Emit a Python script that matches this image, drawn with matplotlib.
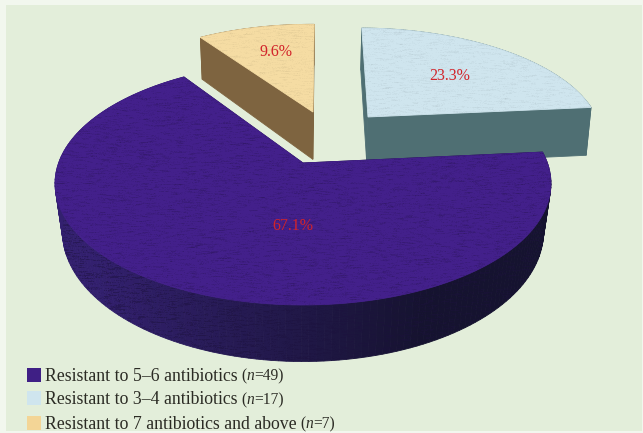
import matplotlib
matplotlib.use("Agg")
import matplotlib.pyplot as plt
import numpy as np
from matplotlib.patches import Polygon, Rectangle

plt.rcParams['font.family'] = ['Liberation Serif', 'DejaVu Serif']

# counts per resistance group
counts = [49, 17, 7]
groups = ["Resistant to 5\u20136 antibiotics", "Resistant to 3\u20134 antibiotics",
          "Resistant to 7 antibiotics and above"]
percents = [100.0 * c / sum(counts) for c in counts]
pct_labels = ["%.1f%%" % p for p in percents]

# styling for each wedge
top_cols = ["#43208b", "#cfe5ee", "#f5dca3"]
side_cols = ["#33206f", "#4f6f73", "#7e6440"]
side_cols_right = ["#15132f", "#4f6f73", "#7e6440"]
legend_cols = ["#3f1f85", "#cfe5ee", "#f3d596"]
explode = [(0.0, 0.0), (0.2847, -0.4175), (0.044, -0.466)]
depth = [47, 52, 51]
shrink = [0.97, 0.983, 0.983]
label_xy = [(293, 226), (450, 76), (276, 52)]

# perspective of the pie plane, in figure pixels
cx, cy = 303.0, 163.0
A, B, K = 244.4, 118.0, 0.1688


def project(X, Y):
    w = 1 - K * Y
    return cx + A * X / w, cy + B * Y / w, w


def wedge_outline(a0, a1, off, n=160):
    # a0, a1 in degrees, counter-clockwise, with y pointing at the viewer
    t = np.radians(np.linspace(a0, a1, n))
    X = np.r_[off[0], off[0] + np.cos(t)]
    Y = np.r_[off[1], off[1] - np.sin(t)]
    return X, Y


def texture(ax, patch, color, seed, amount=0.16):
    # soft mottled print grain, clipped to the face it sits on
    rng = np.random.default_rng(seed)
    n = rng.normal(size=(433, 643))
    k = np.ones(7) / 7.0
    n = np.apply_along_axis(lambda r: np.convolve(r, k, mode='same'), 1, n)
    n = n + 0.5 * rng.normal(size=n.shape) * 0.4
    n = n / n.std()
    img = np.zeros((433, 643, 4))
    rgb = matplotlib.colors.to_rgb(color)
    img[..., :3] = np.clip(np.array(rgb)[None, None, :] * 0.55, 0, 1)
    img[..., 3] = np.clip(n * amount, 0, 0.5)
    im = ax.imshow(img, extent=(0, 643, 433, 0), zorder=patch.get_zorder() + 0.1,
                   interpolation='bilinear', aspect='auto')
    im.set_clip_path(patch)


fig = plt.figure(figsize=(6.43, 4.33), dpi=100, facecolor="#f2f7ee")
ax = fig.add_axes([0, 0, 1, 1])
ax.set_xlim(0, 643)
ax.set_ylim(433, 0)
ax.axis('off')

ax.add_patch(Rectangle((6, 5), 636, 426, fc="#e3eeda", ec="none", zorder=0))

# slices run clockwise from the start angle
start = 5.4
s1 = 3.6 * percents[1]
s2 = 3.6 * percents[2]
spans = [(start - 3.6 * percents[0], start),
         (start, start + s1),
         (start + s1, start + s1 + s2)]

# detached slices first, the big slice sits in front of them
zo = 1
for i in [1, 2, 0]:
    a0, a1 = spans[i]
    X, Y = wedge_outline(a0, a1, explode[i])
    px, py, w = project(X, Y)
    drop = depth[i] / w
    # the underside is further from the eye, so a little narrower
    bx = cx + (px - cx) * shrink[i]
    by = py + drop

    # side faces, far ones first
    px2, py2 = np.r_[px, px[0]], np.r_[py, py[0]]
    bx2, by2 = np.r_[bx, bx[0]], np.r_[by, by[0]]
    order = np.argsort(py2[:-1])
    c0 = np.array(matplotlib.colors.to_rgb(side_cols[i]))
    c1 = np.array(matplotlib.colors.to_rgb(side_cols_right[i]))
    for j in order:
        quad = [(px2[j], py2[j]), (px2[j + 1], py2[j + 1]),
                (bx2[j + 1], by2[j + 1]), (bx2[j], by2[j])]
        f = np.clip((px2[j] - 90) / 330.0, 0, 1)
        col = c0 * (1 - f) + c1 * f
        ax.add_patch(Polygon(quad, closed=True, fc=col, ec=col, lw=0.6, zorder=zo))
    zo += 1

    # grain over the big slice's rim
    if i == 0:
        rim = np.r_[np.c_[px[1:], py[1:]], np.c_[bx[1:], by[1:]][::-1]]
        rim_patch = Polygon(rim, closed=True, fc="none", ec="none", zorder=zo)
        ax.add_patch(rim_patch)
        texture(ax, rim_patch, side_cols[0], 3, amount=0.3)
        zo += 1

    top = Polygon(np.c_[px, py], closed=True, fc=top_cols[i], ec=top_cols[i], lw=0.6, zorder=zo)
    ax.add_patch(top)
    texture(ax, top, top_cols[i], 10 + i, amount=0.14 if i == 0 else 0.05)
    zo += 1

for (x, y), s in zip(label_xy, pct_labels):
    ax.text(x, y, s, color="#d2232a", fontsize=11.5, ha='center', va='center', zorder=zo)

# legend, hand placed under the pie
leg_y = [376.5, 400, 424.5]
box_y = [375, 398, 422.5]
ns = [str(c) for c in counts]
rend = fig.canvas.get_renderer()
for i in range(3):
    ax.add_patch(Rectangle((27, box_y[i] - 7), 14, 14, fc=legend_cols[i], ec="none", zorder=zo))
    t = ax.text(45, leg_y[i], groups[i], color="#2b2b24", fontsize=12.8, va='center', zorder=zo)
    x = t.get_window_extent(rend).x1 + 4
    for s, st in [("(", 'normal'), ("n", 'italic'), ("=" + ns[i] + ")", 'normal')]:
        t2 = ax.text(x, leg_y[i], s, color="#2b2b24", fontsize=11.2, style=st, va='center', zorder=zo)
        x = t2.get_window_extent(rend).x1

fig.savefig("out.png", dpi=100, facecolor=fig.get_facecolor())
